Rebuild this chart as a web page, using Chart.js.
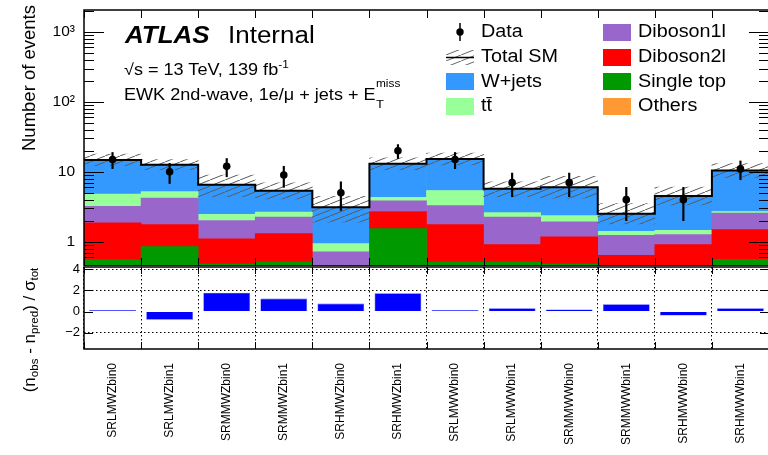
<!DOCTYPE html>
<html lang="en">
<head>
<meta charset="UTF-8">
<title>EWK 2nd-wave - signal region yields</title>
<script src="https://cdn.jsdelivr.net/npm/chart.js"></script>
<style>
    * { margin: 0; padding: 0; box-sizing: border-box; }

    html, body { width: 768px; height: 455px; overflow: hidden; background: #fff; }

    body {
        position: relative;
        font-family: 'Liberation Sans', Arial, Helvetica, sans-serif;
        color: #000;
    }

    canvas { position: absolute; left: 0; }
    #yieldChart { top: 0; }
    #pullChart { top: 260px; }

    /* the reference text is a bit wide, so stretch it horizontally */
    .lbl {
        position: absolute;
        white-space: nowrap;
        line-height: 1;
        transform: scaleX(1.13);
        transform-origin: 0 50%;
    }
    .atlas { font-size: 23px; top: 23.5px; }
    .info { font-size: 16px; }
    .info sup { font-size: 10.5px; vertical-align: 6.5px; }
    .emiss { position: relative; padding-right: 22px; }
    .emiss .m { position: absolute; left: 11px; top: -8px; font-size: 10.5px; color: #000; }
    .emiss .t { position: absolute; left: 11px; top: 13px; font-size: 11.5px; color: #000; }

    .leg { position: absolute; height: 24px; display: flex; align-items: center; }
    .leg .sw { width: 28px; height: 17px; flex: none; }
    .leg svg { flex: none; }
    .leg span {
        font-size: 17.5px;
        line-height: 1;
        margin-left: 7px;
        white-space: nowrap;
        transform: scaleX(1.13);
        transform-origin: 0 50%;
    }

    .ytitle {
        position: absolute;
        white-space: nowrap;
        line-height: 1;
        transform: translate(-50%, -50%) rotate(-90deg);
    }
    .ytitle sub { font-size: 0.68em; vertical-align: -0.3em; }
</style>
</head>
<body>
    <canvas id="yieldChart" width="772" height="266"></canvas>
    <canvas id="pullChart" width="772" height="195"></canvas>

    <!-- ATLAS label -->
    <div class="lbl atlas" style="left:125px"><b><i>ATLAS</i></b></div>
    <div class="lbl atlas" style="left:228px">Internal</div>
    <div class="lbl info" style="left:124px; top:58.5px">&radic;s = 13 TeV, 139 fb<sup>-1</sup></div>
    <div class="lbl info" style="left:124px; top:87px">EWK 2nd-wave, 1e/&mu; + jets + <span class="emiss">E<span class="m">miss</span><span class="t">T</span></span></div>

    <!-- legend -->
    <div class="leg" style="left:446px; top:20px">
        <svg width="28" height="24"><line x1="14" y1="3" x2="14" y2="21" stroke="#000" stroke-width="1.5"/><circle cx="14" cy="12" r="3.7" fill="#000"/></svg>
        <span>Data</span>
    </div>
    <div class="leg" style="left:446px; top:45px">
        <svg width="28" height="17">
            <defs><pattern id="hatch" width="15" height="6" patternUnits="userSpaceOnUse"><line x1="-1" y1="6.4" x2="16" y2="-0.4" stroke="#666" stroke-width="1"/></pattern></defs>
            <rect x="0" y="1" width="28" height="15" fill="url(#hatch)"/>
            <line x1="0" y1="8.5" x2="28" y2="8.5" stroke="#000" stroke-width="1.5"/>
        </svg>
        <span>Total SM</span>
    </div>
    <div class="leg" style="left:446px; top:69.5px"><div class="sw" style="background:#3399ff"></div><span>W+jets</span></div>
    <div class="leg" style="left:446px; top:94px"><div class="sw" style="background:#99ff99"></div><span>tt&#772;</span></div>
    <div class="leg" style="left:603px; top:20px"><div class="sw" style="background:#9966cc"></div><span>Diboson1l</span></div>
    <div class="leg" style="left:603px; top:45px"><div class="sw" style="background:#ff0000"></div><span>Diboson2l</span></div>
    <div class="leg" style="left:603px; top:69.5px"><div class="sw" style="background:#009900"></div><span>Single top</span></div>
    <div class="leg" style="left:603px; top:94px"><div class="sw" style="background:#ff9933"></div><span>Others</span></div>

    <!-- axis titles -->
    <div class="ytitle" style="left:29px; top:78px; font-size:18.5px">Number of events</div>
    <div class="ytitle" style="left:31px; top:330px; font-size:17px">(n<sub>obs</sub> - n<sub>pred</sub>) / &sigma;<sub>tot</sub></div>

<script>
    // signal regions
    const binLabels = ['SRLMWZbin0', 'SRLMWZbin1', 'SRMMWZbin0', 'SRMMWZbin1', 'SRHMWZbin0', 'SRHMWZbin1',
                       'SRLMWWbin0', 'SRLMWWbin1', 'SRMMWWbin0', 'SRMMWWbin1', 'SRHMWWbin0', 'SRHMWWbin1'];

    // background yields per process
    const others    = [0.03, 0.03, 0.03, 0.03, 0.03, 0.03, 0.03, 0.03, 0.03, 0.03, 0.03, 0.03];
    const singleTop = [0.51, 0.81, 0.44, 0.47, 0.27, 1.50, 0.47, 0.47, 0.44, 0.27, 0.27, 0.52];
    const diboson2l = [1.31, 0.91, 0.62, 0.80, 0.14, 1.17, 1.25, 0.40, 0.70, 0.33, 0.60, 0.93];
    const diboson1l = [1.35, 2.45, 0.91, 0.95, 0.27, 1.15, 1.52, 1.35, 0.74, 0.60, 0.36, 1.09];
    const ttbar     = [1.60, 1.00, 0.45, 0.40, 0.22, 0.45, 2.13, 0.35, 0.44, 0.17, 0.19, 0.13];
    const wjets     = [10.0, 7.40, 4.05, 2.70, 2.17, 8.70, 9.90, 3.10, 3.65, 1.10, 3.05, 7.70];

    // total SM uncertainty band edges
    const totalUp   = [18.0, 14.9, 9.0, 6.95, 4.45, 15.8, 18.6, 7.2, 8.6, 3.5, 6.05, 13.1];
    const totalDown = [12.2, 10.7, 4.4, 4.1, 1.9, 10.7, 12.6, 4.4, 4.2, 1.8, 3.35, 8.3];

    // observed data with error bar ends
    const dataObs  = [15, 10, 12, 9, 5, 20, 15, 7, 7, 4, 4, 11];
    const dataHigh = [18.9, 13.2, 15.5, 12.0, 7.2, 24.5, 18.9, 9.6, 9.6, 6.0, 6.0, 14.3];
    const dataLow  = [11.1, 6.8, 8.5, 6.0, 2.8, 15.5, 11.1, 4.4, 4.4, 2.0, 2.0, 7.7];

    // lower panel: (n_obs - n_pred) / sigma_tot
    const pull = [0.15, -0.78, 1.78, 1.22, 0.75, 1.72, 0.12, 0.32, 0.20, 0.69, -0.37, 0.32];
    const pullTicks = [-2, 0, 2, 4];

    const stackFloor = 0.01;

    Chart.defaults.font.family = "'Liberation Sans', Arial, Helvetica, sans-serif";
    Chart.defaults.color = '#000';

    // fixed axis sizes so both panels line up
    const fixWidth = s => { s.width = 84; s.paddingTop = 0; s.paddingBottom = 0; };
    const fixHeight = s => { s.height = 106; s.paddingLeft = 0; s.paddingRight = 0; };

    // frame with inward ticks, ROOT style
    const rootFrame = {
        id: 'rootFrame',
        afterDatasetsDraw(chart, args, opts) {
            const { ctx, chartArea: a } = chart;
            const xs = chart.scales.x, ys = chart.scales.y;
            ctx.save();
            ctx.strokeStyle = '#000';
            ctx.lineWidth = 1;
            ctx.beginPath();
            ys.ticks.forEach(t => {
                let len = opts.major;
                if (opts.log) {
                    const e = Math.floor(Math.log10(t.value) + 1e-9);
                    const m = t.value / Math.pow(10, e);
                    if (Math.abs(m - 1) < 1e-6) len = opts.major;
                    else if (Math.abs(m - Math.round(m)) < 1e-6) len = opts.minor;
                    else len = 0;
                }
                if (!len) return;
                const py = Math.round(ys.getPixelForValue(t.value)) + 0.5;
                ctx.moveTo(a.left, py); ctx.lineTo(a.left + len, py);
                ctx.moveTo(a.right, py); ctx.lineTo(a.right - len, py);
            });
            for (let i = 0; i <= binLabels.length; i++) {
                const px = Math.round(xs.getPixelForValue(i + opts.edgeShift)) + 0.5;
                ctx.moveTo(px, a.top); ctx.lineTo(px, a.top + opts.edgeTick);
                ctx.moveTo(px, a.bottom); ctx.lineTo(px, a.bottom - opts.edgeTick);
            }
            ctx.stroke();
            ctx.lineWidth = 1.5;
            ctx.strokeRect(a.left, a.top, a.width, a.height);
            ctx.restore();
        }
    };

    // hatch fill for the uncertainty band
    function hatchPattern() {
        const tile = document.createElement('canvas');
        tile.width = 15; tile.height = 6;
        const g = tile.getContext('2d');
        g.strokeStyle = '#5a5a5a';
        g.lineWidth = 1;
        g.beginPath(); g.moveTo(-1, 6.4); g.lineTo(16, -0.4); g.stroke();
        return g.createPattern(tile, 'repeat');
    }

    const processes = [
        { values: others,    color: '#ff9933' },
        { values: singleTop, color: '#009900' },
        { values: diboson2l, color: '#ff0000' },
        { values: diboson1l, color: '#9966cc' },
        { values: ttbar,     color: '#99ff99' },
        { values: wjets,     color: '#3399ff' }
    ];

    const barCommon = { type: 'bar', grouped: false, barPercentage: 1, categoryPercentage: 1, borderWidth: 0 };
    const datasets = [];

    // stacked histogram as floating bars
    let cum = binLabels.map(() => stackFloor);
    processes.forEach(p => {
        const lo = cum;
        cum = lo.map((v, i) => v + p.values[i]);
        const hi = cum;
        datasets.push({
            ...barCommon,
            data: lo.map((v, i) => ({ x: i + 0.5, y: [v, hi[i]] })),
            backgroundColor: p.color,
            order: 5
        });
    });
    const total = cum;

    datasets.push({
        ...barCommon,
        data: binLabels.map((_, i) => ({ x: i + 0.5, y: [totalDown[i], totalUp[i]] })),
        backgroundColor: hatchPattern(),
        order: 3
    });

    // total SM outline
    const outline = total.map((v, i) => ({ x: i, y: v }));
    outline.push({ x: binLabels.length, y: total[total.length - 1] });
    datasets.push({
        type: 'line',
        data: outline,
        stepped: 'before',
        borderColor: '#000',
        borderWidth: 2,
        pointRadius: 0,
        fill: false,
        order: 2
    });

    // data error bars + markers
    datasets.push({
        type: 'bar',
        grouped: false,
        barThickness: 1.5,
        data: binLabels.map((_, i) => ({ x: i + 0.5, y: [dataLow[i], dataHigh[i]] })),
        backgroundColor: '#000',
        order: 1
    });
    datasets.push({
        type: 'line',
        data: dataObs.map((v, i) => ({ x: i + 0.5, y: v })),
        showLine: false,
        pointRadius: 3.8,
        pointBackgroundColor: '#000',
        pointBorderWidth: 0,
        order: 0
    });

    const supDigits = { 2: '\u00b2', 3: '\u00b3' };

    new Chart(document.getElementById('yieldChart'), {
        type: 'bar',
        data: { datasets: datasets },
        options: {
            responsive: false,
            animation: false,
            layout: { autoPadding: false, padding: { top: 10, right: 3, left: 0, bottom: 0 } },
            plugins: {
                legend: { display: false },
                tooltip: { enabled: false },
                rootFrame: { log: true, major: 20, minor: 10, edgeTick: 8, edgeShift: 0 }
            },
            scales: {
                x: { type: 'linear', min: 0, max: binLabels.length, offset: false, display: false, ticks: { stepSize: 1 } },
                y: {
                    type: 'logarithmic',
                    min: 0.45,
                    max: 2060,
                    grid: { display: false, drawTicks: false },
                    border: { display: false },
                    ticks: {
                        autoSkip: false,
                        padding: 9,
                        font: { size: 15.5 },
                        callback: v => {
                            const e = Math.log10(v);
                            if (Math.abs(e - Math.round(e)) > 1e-9) return '';
                            const n = Math.round(e);
                            return n < 2 ? String(Math.round(v)) : '10' + supDigits[n];
                        }
                    },
                    afterFit: fixWidth
                }
            }
        },
        plugins: [rootFrame]
    });

    new Chart(document.getElementById('pullChart'), {
        type: 'bar',
        data: {
            labels: binLabels,
            datasets: [{
                data: pull,
                backgroundColor: '#0000ff',
                borderColor: '#4d4dff',
                borderWidth: 0.6,
                barPercentage: 0.82,
                categoryPercentage: 1,
                minBarLength: 1.5
            }]
        },
        options: {
            responsive: false,
            animation: false,
            layout: { autoPadding: false, padding: { top: 7, right: 3, left: 0, bottom: 0 } },
            plugins: {
                legend: { display: false },
                tooltip: { enabled: false },
                rootFrame: { log: false, major: 9, minor: 0, edgeTick: 7, edgeShift: -0.5 }
            },
            scales: {
                x: {
                    grid: { color: '#000', drawTicks: false, offset: true },
                    border: { display: false, dash: [1.5, 2.5] },
                    ticks: { autoSkip: false, minRotation: 90, maxRotation: 90, padding: 14, font: { size: 12 } },
                    afterFit: fixHeight
                },
                y: {
                    min: -3.53,
                    max: 4.2,
                    afterBuildTicks: s => { s.ticks = pullTicks.map(v => ({ value: v })); },
                    grid: {
                        drawTicks: false,
                        color: c => (c.tick && c.tick.value === 0) ? 'rgba(0,0,0,0)' : '#000'
                    },
                    border: { display: false, dash: [1.5, 2.5] },
                    ticks: {
                        padding: 4,
                        font: { size: 13 },
                        callback: v => v < 0 ? '\u2212' + Math.abs(v) : String(v)
                    },
                    afterFit: fixWidth
                }
            }
        },
        plugins: [rootFrame]
    });
</script>
</body>
</html>
